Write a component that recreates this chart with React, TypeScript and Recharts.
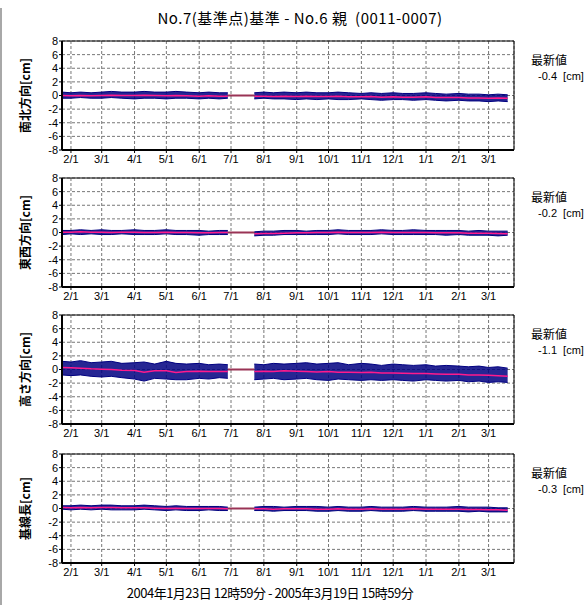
import {
  Area,
  CartesianGrid,
  ComposedChart,
  Line,
  ReferenceArea,
  XAxis,
  YAxis,
} from "recharts";

// sample dates (roughly every 10 days); "2004-07-10" is the data gap
const DATES = [
  "2004-01-23", "2004-02-01", "2004-02-10", "2004-02-20", "2004-03-01", "2004-03-10",
  "2004-03-20", "2004-04-01", "2004-04-10", "2004-04-20", "2004-05-01", "2004-05-10",
  "2004-05-20", "2004-06-01", "2004-06-10", "2004-06-20", "2004-06-28", "2004-07-10",
  "2004-07-23", "2004-08-01", "2004-08-10", "2004-08-20", "2004-09-01", "2004-09-10",
  "2004-09-20", "2004-10-01", "2004-10-10", "2004-10-20", "2004-11-01", "2004-11-10",
  "2004-11-20", "2004-12-01", "2004-12-10", "2004-12-20", "2005-01-01", "2005-01-10",
  "2005-01-20", "2005-02-01", "2005-02-10", "2005-02-20", "2005-03-01", "2005-03-10",
  "2005-03-19",
];

// 南北方向 : upper / lower edge of the hourly scatter and the running mean
const nsHi = [0.5, 0.4, 0.5, 0.4, 0.5, 0.6, 0.5, 0.5, 0.6, 0.5, 0.5, 0.6, 0.5, 0.4, 0.5, 0.4, 0.4, null, 0.4, 0.5, 0.4, 0.5, 0.4, 0.5, 0.4, 0.4, 0.5, 0.4, 0.3, 0.4, 0.3, 0.4, 0.3, 0.3, 0.4, 0.3, 0.2, 0.3, 0.2, 0.2, 0.1, 0.2, 0.1];
const nsLo = [-0.4, -0.4, -0.3, -0.4, -0.4, -0.3, -0.4, -0.5, -0.4, -0.4, -0.5, -0.4, -0.4, -0.5, -0.4, -0.5, -0.4, null, -0.5, -0.4, -0.5, -0.5, -0.6, -0.5, -0.6, -0.5, -0.6, -0.6, -0.5, -0.6, -0.7, -0.6, -0.6, -0.7, -0.6, -0.7, -0.8, -0.7, -0.8, -0.8, -0.9, -0.8, -0.9];
const nsAvg = [0.0, -0.05, 0.0, -0.05, 0.0, 0.05, 0.0, 0.0, 0.05, 0.0, -0.05, 0.0, -0.05, -0.1, -0.05, -0.1, -0.1, null, -0.1, -0.1, -0.15, -0.1, -0.15, -0.1, -0.15, -0.15, -0.1, -0.2, -0.2, -0.15, -0.25, -0.2, -0.25, -0.25, -0.2, -0.3, -0.3, -0.3, -0.35, -0.35, -0.4, -0.35, -0.4];

// 東西方向
const ewHi = [0.3, 0.3, 0.4, 0.3, 0.4, 0.3, 0.3, 0.4, 0.3, 0.3, 0.4, 0.3, 0.3, 0.3, 0.2, 0.3, 0.3, null, 0.1, 0.2, 0.2, 0.3, 0.3, 0.2, 0.3, 0.3, 0.4, 0.3, 0.3, 0.3, 0.4, 0.3, 0.3, 0.4, 0.3, 0.3, 0.3, 0.3, 0.2, 0.3, 0.2, 0.2, 0.2];
const ewLo = [-0.3, -0.2, -0.3, -0.2, -0.3, -0.3, -0.2, -0.3, -0.3, -0.3, -0.2, -0.3, -0.3, -0.4, -0.3, -0.3, -0.3, null, -0.5, -0.4, -0.4, -0.3, -0.3, -0.3, -0.3, -0.3, -0.2, -0.3, -0.3, -0.3, -0.2, -0.3, -0.3, -0.3, -0.3, -0.3, -0.4, -0.3, -0.4, -0.4, -0.4, -0.5, -0.4];
const ewAvg = [0.05, 0.05, 0.1, 0.05, 0.05, 0.0, 0.05, 0.05, 0.0, 0.0, 0.05, 0.0, 0.0, -0.05, -0.05, 0.0, 0.0, null, -0.2, -0.15, -0.15, -0.1, -0.05, -0.05, 0.0, 0.0, 0.05, 0.0, 0.0, 0.0, 0.05, 0.0, 0.0, 0.0, 0.0, -0.05, -0.05, -0.05, -0.1, -0.1, -0.1, -0.15, -0.2];

// 高さ方向
const upHi = [1.2, 1.1, 1.3, 1.0, 1.1, 1.2, 0.9, 1.0, 1.1, 0.8, 1.2, 0.9, 0.8, 0.9, 0.7, 0.8, 0.7, null, 0.8, 0.7, 0.9, 0.8, 0.9, 1.0, 0.8, 0.9, 1.0, 0.7, 0.9, 0.8, 0.6, 0.8, 0.7, 0.6, 0.7, 0.5, 0.6, 0.5, 0.4, 0.5, 0.3, 0.4, 0.2];
const upLo = [-0.8, -0.9, -0.8, -1.0, -1.1, -1.0, -1.2, -1.4, -1.7, -1.3, -1.4, -1.5, -1.5, -1.3, -1.4, -1.2, -1.3, null, -1.5, -1.4, -1.3, -1.5, -1.4, -1.3, -1.5, -1.6, -1.4, -1.5, -1.6, -1.5, -1.6, -1.5, -1.6, -1.7, -1.5, -1.6, -1.7, -1.6, -1.8, -1.7, -1.9, -1.8, -1.9];
const upAvg = [0.3, 0.25, 0.2, 0.1, 0.05, 0.0, -0.1, -0.15, -0.4, -0.2, -0.2, -0.45, -0.3, -0.25, -0.3, -0.3, -0.3, null, -0.3, -0.25, -0.3, -0.2, -0.25, -0.3, -0.35, -0.3, -0.4, -0.4, -0.45, -0.4, -0.5, -0.5, -0.55, -0.6, -0.6, -0.65, -0.7, -0.7, -0.8, -0.8, -0.85, -0.9, -1.0];

// 基線長
const blHi = [0.4, 0.4, 0.5, 0.4, 0.5, 0.5, 0.4, 0.4, 0.5, 0.4, 0.3, 0.4, 0.3, 0.3, 0.3, 0.3, 0.2, null, 0.2, 0.3, 0.3, 0.2, 0.3, 0.3, 0.3, 0.2, 0.3, 0.2, 0.2, 0.3, 0.2, 0.2, 0.2, 0.3, 0.2, 0.2, 0.2, 0.3, 0.2, 0.2, 0.2, 0.1, 0.1];
const blLo = [-0.1, -0.2, -0.1, -0.2, -0.1, -0.2, -0.2, -0.2, -0.1, -0.2, -0.3, -0.2, -0.3, -0.3, -0.2, -0.3, -0.3, null, -0.3, -0.3, -0.4, -0.3, -0.3, -0.3, -0.4, -0.4, -0.3, -0.4, -0.4, -0.3, -0.4, -0.4, -0.4, -0.3, -0.4, -0.4, -0.4, -0.4, -0.5, -0.4, -0.5, -0.5, -0.5];
const blAvg = [0.15, 0.1, 0.15, 0.1, 0.15, 0.15, 0.1, 0.1, 0.1, 0.05, 0.0, 0.05, 0.0, 0.0, 0.0, 0.0, -0.05, null, -0.05, -0.05, -0.1, -0.05, -0.05, -0.05, -0.1, -0.1, -0.05, -0.1, -0.1, -0.05, -0.1, -0.1, -0.1, -0.05, -0.1, -0.1, -0.1, -0.1, -0.15, -0.15, -0.2, -0.2, -0.25];

// flat line drawn through the missing period
const GAP = [0, 0, 0]; // at 2004-06-28, 2004-07-10, 2004-07-23
const GAP_FROM = 16;

const PANEL_NAMES = ["南北方向[cm]", "東西方向[cm]", "高さ方向[cm]", "基線長[cm]"];
const LATEST = ["-0.4", "-0.2", "-1.1", "-0.3"];

const TICK_DATES = [
  "2004-02-01", "2004-03-01", "2004-04-01", "2004-05-01", "2004-06-01", "2004-07-01",
  "2004-08-01", "2004-09-01", "2004-10-01", "2004-11-01", "2004-12-01", "2005-01-01",
  "2005-02-01", "2005-03-01",
];
const TICK_LABELS = ["2/1", "3/1", "4/1", "5/1", "6/1", "7/1", "8/1", "9/1", "10/1", "11/1", "12/1", "1/1", "2/1", "3/1"];
const Y_TICKS = [-8, -6, -4, -2, 0, 2, 4, 6, 8];

const toTs = (d: string) => new Date(d + "T00:00:00Z").getTime();
const T0 = Date.UTC(2004, 0, 23, 12, 59);
const T1 = Date.UTC(2005, 2, 25);
const TICKS = TICK_DATES.map(toTs);

const series = [
  [nsHi, nsLo, nsAvg],
  [ewHi, ewLo, ewAvg],
  [upHi, upLo, upAvg],
  [blHi, blLo, blAvg],
];

const PANEL_TOPS = [41, 178, 315, 454];
const PLOT_H = 109;
const M_TOP = 5;
const AX_H = 22;

const font = "'Noto Sans CJK JP', 'Liberation Sans', sans-serif";

function Panel({ idx }: { idx: number }) {
  const [hi, lo, avg] = series[idx];
  const rows = DATES.map((d, i) => {
    const g = i - GAP_FROM;
    return {
      t: i === 0 ? T0 : toTs(d),
      band: hi[i] == null ? null : [lo[i], hi[i]],
      avg: avg[i],
      gap: g >= 0 && g < GAP.length ? GAP[g] : null,
    };
  });
  return (
    <ComposedChart
      width={588}
      height={M_TOP + PLOT_H + AX_H}
      data={rows}
      margin={{ top: M_TOP, right: 74, bottom: 0, left: 0 }}
    >
      <CartesianGrid stroke="#777" strokeDasharray="3 2" strokeWidth={1} />
      <XAxis
        dataKey="t"
        type="number"
        domain={[T0, T1]}
        ticks={TICKS}
        interval={0}
        allowDataOverflow
        height={AX_H}
        tickFormatter={(v: number) => TICK_LABELS[TICKS.indexOf(v)]}
        tick={{ fontSize: 11, fill: "#000", fontFamily: "'Liberation Sans', sans-serif" }}
        tickLine={{ stroke: "#000" }}
        tickSize={3}
        tickMargin={2}
        axisLine={{ stroke: "#000", strokeWidth: 2 }}
      />
      <YAxis
        domain={[-8, 8]}
        ticks={Y_TICKS}
        interval={0}
        width={62}
        tick={{ fontSize: 11, fill: "#000", fontFamily: "'Liberation Sans', sans-serif" }}
        tickLine={{ stroke: "#000" }}
        tickSize={3}
        tickMargin={1}
        axisLine={{ stroke: "#000", strokeWidth: 2 }}
        label={{
          value: PANEL_NAMES[idx],
          angle: -90,
          position: "center",
          dx: -5,
          style: { fontSize: 12, fontWeight: "bold", fill: "#000", fontFamily: font },
        }}
      />
      <ReferenceArea x1={T0} x2={T1} y1={-8} y2={8} fill="none" stroke="#000" strokeWidth={1} />
      <Area
        dataKey="band"
        type="linear"
        stroke="#000080"
        strokeWidth={1}
        fill="#000080"
        fillOpacity={0.85}
        dot={false}
        activeDot={false}
        isAnimationActive={false}
      />
      <Line dataKey="gap" type="linear" stroke="#993355" strokeWidth={2} dot={false} isAnimationActive={false} />
      <Line dataKey="avg" type="linear" stroke="#ff1a8c" strokeWidth={1.5} dot={false} isAnimationActive={false} />
    </ComposedChart>
  );
}

export default function App() {
  return (
    <div
      style={{
        position: "absolute",
        left: 0,
        top: 0,
        width: 588,
        height: 605,
        background: "#fff",
        overflow: "hidden",
        fontFamily: font,
      }}
    >
      <div style={{ position: "absolute", left: 0, top: 8, width: 2, height: 597, background: "#a8a8a8" }} />
      <div
        style={{
          position: "absolute",
          left: 0,
          width: 600,
          top: 9,
          textAlign: "center",
          fontSize: 15,
          lineHeight: "18px",
          letterSpacing: 0.5,
          whiteSpace: "pre",
        }}
      >
        {"No.7(基準点)基準 - No.6 親  (0011-0007)"}
      </div>
      {PANEL_TOPS.map((top, i) => (
        <div key={i}>
          <div style={{ position: "absolute", left: 0, top: top - M_TOP }}>
            <Panel idx={i} />
          </div>
          <div style={{ position: "absolute", left: 531, top: top + 11, fontSize: 12, lineHeight: "15px" }}>最新値</div>
          <div
            style={{
              position: "absolute",
              left: 535,
              top: top + 28,
              fontSize: 11,
              lineHeight: "15px",
              whiteSpace: "pre",
              fontFamily: "'Liberation Sans', sans-serif",
            }}
          >
            {` ${LATEST[i]}  [cm]`}
          </div>
        </div>
      ))}
      <div
        style={{
          position: "absolute",
          left: 0,
          width: 540,
          top: 584,
          textAlign: "center",
          fontSize: 13,
          letterSpacing: -0.5,
          lineHeight: "18px",
        }}
      >
        2004年1月23日 12時59分 - 2005年3月19日 15時59分
      </div>
    </div>
  );
}
